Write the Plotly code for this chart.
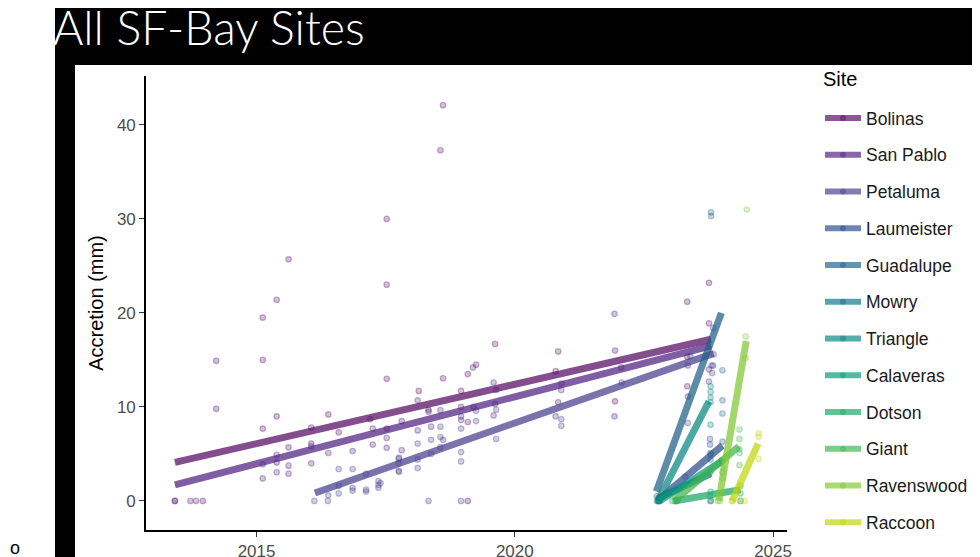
import plotly.graph_objects as go

# ---------------- data ----------------
sites = ["Bolinas", "San Pablo", "Petaluma", "Laumeister", "Guadalupe", "Mowry",
         "Triangle", "Calaveras", "Dotson", "Giant", "Ravenswood", "Raccoon"]

site_rgb = [(84, 8, 98), (78, 32, 128), (70, 62, 142), (44, 76, 142), (30, 96, 135),
            (12, 116, 135), (6, 134, 128), (8, 152, 116), (26, 166, 98),
            (64, 180, 78), (128, 200, 50), (192, 214, 10)]

bolinas_year = [2013.42, 2013.96, 2014.22, 2014.22, 2015.12, 2015.12, 2015.12, 2015.39, 2015.39,
                2015.39, 2015.62, 2015.62, 2016.06, 2016.06, 2016.39, 2016.59, 2017.2, 2017.52,
                2017.52, 2017.52, 2017.52, 2017.81, 2018.14, 2018.33, 2018.56, 2018.61, 2018.61,
                2018.96, 2018.96, 2019.09, 2019.09, 2019.09, 2019.25, 2019.62, 2019.62, 2020.79,
                2020.84, 2020.84, 2021.94, 2021.94, 2022.06, 2023.34, 2023.34, 2023.34, 2023.76,
                2023.76]
bolinas_acc = [0, 0, 14.9, 9.8, 19.5, 15.0, 7.7, 21.4, 9.0,
               4.1, 25.7, 5.7, 7.8, 6.1, 9.2, 7.3, 8.7, 30.0,
               23.0, 13.0, 7.7, 8.5, 11.7, 9.7, 37.3, 42.1, 13.05,
               11.7, 10.0, 13.5, 8.4, 0, 14.5, 16.7, 10.3, 13.8,
               15.9, 10.5, 16.0, 10.6, 14.2, 21.2, 15.35, 12.2, 23.2,
               18.9]

sanpablo_year = [2013.42, 2013.72, 2013.83, 2015.12, 2015.12, 2015.39, 2015.39, 2015.62, 2015.62,
                 2016.06, 2016.06, 2016.39, 2016.86, 2017.25, 2017.25, 2017.52, 2017.52, 2017.81,
                 2017.75, 2018.12, 2018.12, 2018.33, 2018.38, 2018.56, 2018.61, 2018.96, 2018.96,
                 2019.19, 2019.2, 2019.59, 2019.59, 2019.64, 2020.9, 2020.9, 2020.79, 2021.93,
                 2021.93, 2022.07, 2023.35, 2023.35, 2023.76]
sanpablo_acc = [0, 0, 0, 3.9, 2.4, 4.9, 3.05, 3.75, 2.9,
                5.8, 4.0, 5.1, 5.3, 7.7, 6.0, 6.7, 5.65, 5.4,
                4.5, 10.7, 7.5, 9.5, 7.9, 9.65, 6.5, 9.0, 8.6,
                14.2, 10.0, 12.6, 9.1, 11.8, 12.5, 11.8, 9.0, 19.9,
                9.0, 12.6, 14.4, 11.1, 14.0]

petaluma_year = [2016.12, 2016.38, 2016.39, 2016.59, 2016.59, 2016.59, 2016.86, 2016.86, 2016.86,
                 2017.12, 2017.12, 2017.12, 2017.36, 2017.36, 2017.36, 2017.4, 2017.75, 2017.75,
                 2017.76, 2017.76, 2018.12, 2018.12, 2018.12, 2018.33, 2018.38, 2018.38, 2018.56,
                 2018.56, 2018.56, 2018.96, 2018.96, 2018.96, 2018.96, 2019.25, 2019.25, 2019.64,
                 2019.64, 2020.9, 2020.9, 2023.35, 2023.4, 2023.76, 2023.81, 2023.82, 2023.84,
                 2023.84, 2023.85]
petaluma_acc = [0, 0, 0.6, 3.4, 1.6, 0.8, 3.4, 1.4, 1.1,
                2.9, 1.2, 1.0, 2.1, 1.7, 1.4, 1.9, 4.0, 3.2,
                4.6, 3.1, 6.1, 4.4, 3.5, 0, 6.5, 5.0, 7.9,
                6.8, 5.7, 7.7, 5.2, 4.2, 0, 9.6, 8.5, 9.7,
                6.6, 8.7, 8.0, 8.3, 15.4, 12.7, 14.4, 13.6, 18.4,
                14.4, 15.6]

laumeister_year = [2022.78, 2022.78, 2023.3, 2023.78, 2023.78, 2023.8, 2024.0, 2024.02]
laumeister_acc = [0, 0.3, 2.6, 6.6, 6.0, 0, 4.3, 6.3]

guadalupe_year = [2022.75, 2022.75, 2023.8, 2023.8, 2024.02, 2024.02, 2024.02, 2023.79]
guadalupe_acc = [0, 0.5, 30.3, 30.7, 13.9, 10.7, 9.3, 5.0]

mowry_year = [2022.78, 2022.8, 2023.79, 2023.79, 2023.79]
mowry_acc = [0, 0, 8.1, 4.4, 3.1]

triangle_year = [2022.78, 2022.8, 2023.79, 2023.79, 2023.79, 2023.79]
triangle_acc = [0, 0.4, 12.2, 11.6, 11.0, 10.5]

calaveras_year = [2022.8, 2023.79, 2023.79, 2024.02, 2024.02]
calaveras_acc = [0, 5.1, 1.0, 3.05, 4.2]

dotson_year = [2023.05, 2023.12, 2023.78, 2023.78, 2024.37, 2024.37, 2024.37]
dotson_acc = [0, 0, 0.5, 0, 0.8, 0, 1.6]

giant_year = [2023.1, 2023.15, 2024.35, 2024.35, 2024.35, 2024.35, 2024.35]
giant_acc = [0, 0, 7.6, 6.6, 5.5, 5.1, 3.8]

ravenswood_year = [2023.93, 2023.97, 2024.02, 2024.02, 2024.47, 2024.49, 2024.47, 2024.37]
ravenswood_acc = [0, 0, 3.6, 2.4, 15.2, 31.0, 17.5, 0]

raccoon_year = [2024.2, 2024.22, 2024.72, 2024.72, 2024.72, 2024.45]
raccoon_acc = [0, 0, 7.2, 6.8, 4.5, 0]

site_years = [bolinas_year, sanpablo_year, petaluma_year, laumeister_year, guadalupe_year,
              mowry_year, triangle_year, calaveras_year, dotson_year, giant_year,
              ravenswood_year, raccoon_year]
site_accs = [bolinas_acc, sanpablo_acc, petaluma_acc, laumeister_acc, guadalupe_acc,
             mowry_acc, triangle_acc, calaveras_acc, dotson_acc, giant_acc,
             ravenswood_acc, raccoon_acc]

# linear-fit end points per site
fit_year0 = [2013.42, 2013.42, 2016.13, 2022.78, 2022.74, 2022.78, 2022.78, 2022.8,
             2023.08, 2023.08, 2023.95, 2024.21]
fit_year1 = [2023.8, 2023.8, 2023.85, 2024.02, 2024.0, 2023.8, 2023.76, 2024.0,
             2024.37, 2024.34, 2024.48, 2024.71]
fit_acc0 = [4.1, 1.7, 0.85, 0.1, 1.0, 0.3, 0.1, 0.0, 0.0, 0.0, 0.0, 0.0]
fit_acc1 = [17.2, 16.5, 15.7, 5.9, 20.0, 2.9, 10.6, 4.2, 1.2, 5.8, 17.0, 6.1]

x_ticks = [2015, 2020, 2025]
y_ticks = [0, 10, 20, 30, 40]


def rgba(c, a):
    return "rgba(%d,%d,%d,%.2f)" % (c[0], c[1], c[2], a)


fig = go.Figure()

# points
for s, c, xs, ys in zip(sites, site_rgb, site_years, site_accs):
    fig.add_trace(go.Scatter(
        x=xs, y=ys, mode="markers", showlegend=False, legendgroup=s, name=s,
        marker=dict(size=5.5, color=rgba(c, 0.25), line=dict(color=rgba(c, 0.32), width=1.2)),
        hoverinfo="skip"))

# fit lines
for s, c, x0, x1, y0, y1 in zip(sites, site_rgb, fit_year0, fit_year1, fit_acc0, fit_acc1):
    fig.add_trace(go.Scatter(
        x=[x0, x1], y=[y0, y1], mode="lines", showlegend=False, legendgroup=s, name=s,
        line=dict(color=rgba(c, 0.72), width=7), hoverinfo="skip"))

# legend entries
for s, c in zip(sites, site_rgb):
    fig.add_trace(go.Scatter(
        x=[None], y=[None], mode="lines+markers", name=s, legendgroup=s, showlegend=True,
        line=dict(color=rgba(c, 0.68), width=6),
        marker=dict(size=6, color=rgba(c, 0.45))))

# ---------------- layout ----------------
# the page adds an 8px body margin, so target screen pixels are shifted by OFF
OFF = 8
W, H = 972, 549
L, R, T, B = 138, 193, 68, 27
pw, ph = W - L - R, H - T - B


def px_x(p):
    return (p - OFF - L) / pw


def px_y(p):
    return (H - B - (p - OFF)) / ph


shapes = [
    dict(type="rect", xref="paper", yref="paper", x0=px_x(55), x1=px_x(990),
         y0=px_y(5), y1=px_y(570), fillcolor="black", line=dict(width=0), layer="below"),
    dict(type="rect", xref="paper", yref="paper", x0=px_x(75), x1=px_x(990),
         y0=px_y(65), y1=px_y(570), fillcolor="white", line=dict(width=0), layer="below"),
]

annotations = [
    dict(text="All SF-Bay Sites", xref="paper", yref="paper", x=px_x(51), y=px_y(27),
         xanchor="left", yanchor="middle", showarrow=False,
         font=dict(family="Lato", size=46.5, color="white", weight=300)),
    dict(text="o", xref="paper", yref="paper", x=px_x(15), y=px_y(548),
         xanchor="center", yanchor="middle", showarrow=False,
         font=dict(family="Liberation Sans", size=18, color="black")),
    dict(text="Site", xref="paper", yref="paper", x=px_x(821), y=px_y(79),
         xanchor="left", yanchor="middle", showarrow=False,
         font=dict(family="Liberation Sans", size=20, color="black")),
]

fig.update_layout(
    width=W, height=H,
    margin=dict(l=L, r=R, t=T, b=B, pad=0, autoexpand=False),
    paper_bgcolor="white", plot_bgcolor="white",
    shapes=shapes, annotations=annotations,
    font=dict(family="Liberation Sans, Arial, sans-serif", color="#1a1a1a"),
    legend=dict(
        x=px_x(820), y=px_y(100), xanchor="left", yanchor="top",
        bgcolor="rgba(0,0,0,0)", traceorder="grouped", tracegroupgap=11,
        font=dict(size=17.5, color="#1a1a1a"), itemwidth=36),
    xaxis=dict(range=[2012.86, 2025.27], tickvals=x_ticks, ticktext=[str(v) for v in x_ticks],
               showgrid=False, zeroline=False, showline=True, linecolor="black", linewidth=1.6,
               ticks="outside", ticklen=5, tickwidth=1.4, tickcolor="#333333",
               tickfont=dict(size=17, color="#4d4d4d")),
    yaxis=dict(range=[-3.09, 45.2], tickvals=y_ticks,
               showgrid=False, zeroline=False, showline=True, linecolor="black", linewidth=1.6,
               ticks="outside", ticklen=5, tickwidth=1.4, tickcolor="#333333",
               tickfont=dict(size=17, color="#4d4d4d"),
               title=dict(text="Accretion (mm)", standoff=8, font=dict(size=20, color="black"))),
)

fig.write_html("out.html")
